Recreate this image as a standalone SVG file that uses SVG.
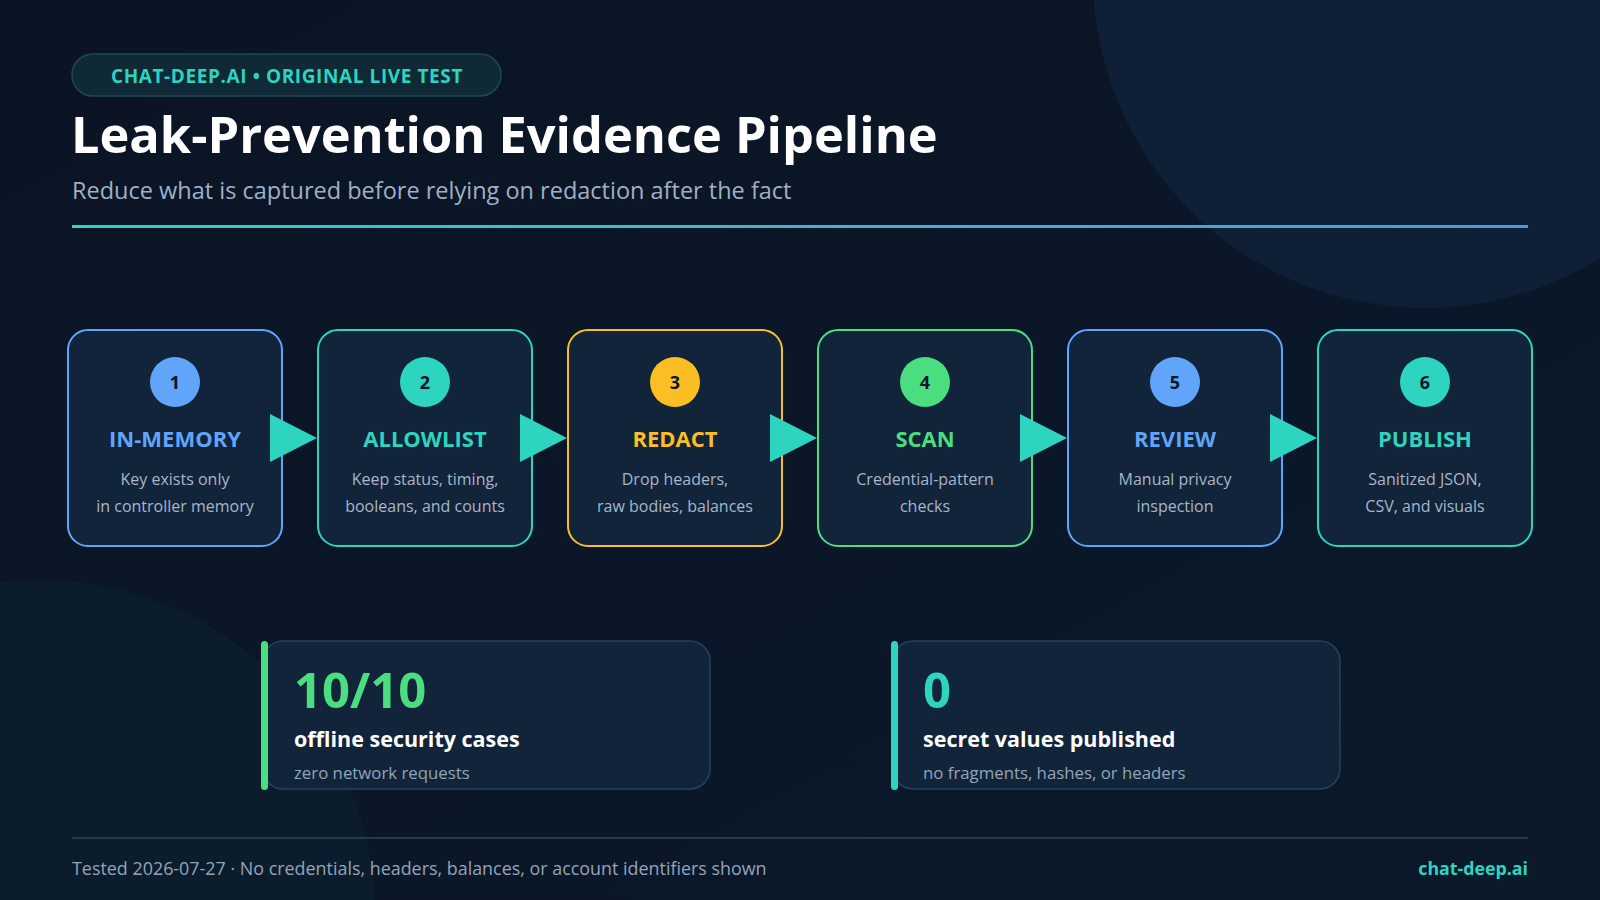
<svg xmlns="http://www.w3.org/2000/svg" width="1600" height="900" viewBox="0 0 1600 900">
<defs>
<linearGradient id="bg" x1="0" y1="0" x2="1" y2="1">
<stop offset="0" stop-color="#0a1424"/>
<stop offset="1" stop-color="#0b192b"/>
</linearGradient>
<linearGradient id="rule" x1="0" y1="0" x2="1" y2="0">
<stop offset="0" stop-color="#2dd4bf"/>
<stop offset="1" stop-color="#4a9ae0"/>
</linearGradient>
<style>
text{font-family:"Open Sans","Noto Sans","Liberation Sans",sans-serif}
.box{fill:#12243a;stroke-width:2}
.num{font-size:18px;font-weight:700;fill:#0b1628;text-anchor:middle}
.lbl{font-size:22px;font-weight:700;text-anchor:middle}
.desc{font-size:16px;fill:#a7b6c8;text-anchor:middle}
.arrow{fill:#2dd4bf}
.card{fill:#12243a;stroke:#27405a;stroke-width:1.5}
.big{font-size:49px;font-weight:700}
.cap{font-size:21.5px;font-weight:700;fill:#ffffff}
.sub{font-size:16.8px;fill:#93a4b8}
</style>
</defs>
<rect width="1600" height="900" fill="url(#bg)"/>
<circle cx="1425" cy="-24" r="332" fill="#0e1f36"/>
<circle cx="40" cy="915" r="335" fill="#0b1d2d"/>

<g id="header">
<rect x="72" y="54" width="429" height="42" rx="21" fill="#0f2a36" stroke="#1d4a52" stroke-width="1.5"/>
<text x="287" y="83" text-anchor="middle" font-size="19" font-weight="700" fill="#2dd4bf" letter-spacing="0.6">CHAT-DEEP.AI • ORIGINAL LIVE TEST</text>
<text x="71" y="153" font-size="50.5" font-weight="700" fill="#ffffff">Leak-Prevention Evidence Pipeline</text>
<text x="72" y="199" font-size="23.5" fill="#9fb1c5">Reduce what is captured before relying on redaction after the fact</text>
<rect x="72" y="225" width="1456" height="3" fill="url(#rule)"/>
</g>

<g id="step1">
<rect class="box" x="68" y="330" width="214" height="216" rx="20" stroke="#60a5fa"/>
<circle cx="175" cy="382" r="25" fill="#60a5fa"/>
<text class="num" x="175" y="388.5">1</text>
<text class="lbl" x="175" y="447" fill="#60a5fa">IN-MEMORY</text>
<text class="desc" x="175" y="485">Key exists only</text>
<text class="desc" x="175" y="512">in controller memory</text>
</g>
<g id="step2">
<rect class="box" x="318" y="330" width="214" height="216" rx="20" stroke="#2dd4bf"/>
<circle cx="425" cy="382" r="25" fill="#2dd4bf"/>
<text class="num" x="425" y="388.5">2</text>
<text class="lbl" x="425" y="447" fill="#2dd4bf">ALLOWLIST</text>
<text class="desc" x="425" y="485">Keep status, timing,</text>
<text class="desc" x="425" y="512">booleans, and counts</text>
</g>
<g id="step3">
<rect class="box" x="568" y="330" width="214" height="216" rx="20" stroke="#fbbf24"/>
<circle cx="675" cy="382" r="25" fill="#fbbf24"/>
<text class="num" x="675" y="388.5">3</text>
<text class="lbl" x="675" y="447" fill="#fbbf24">REDACT</text>
<text class="desc" x="675" y="485">Drop headers,</text>
<text class="desc" x="675" y="512">raw bodies, balances</text>
</g>
<g id="step4">
<rect class="box" x="818" y="330" width="214" height="216" rx="20" stroke="#4ade80"/>
<circle cx="925" cy="382" r="25" fill="#4ade80"/>
<text class="num" x="925" y="388.5">4</text>
<text class="lbl" x="925" y="447" fill="#4ade80">SCAN</text>
<text class="desc" x="925" y="485">Credential-pattern</text>
<text class="desc" x="925" y="512">checks</text>
</g>
<g id="step5">
<rect class="box" x="1068" y="330" width="214" height="216" rx="20" stroke="#60a5fa"/>
<circle cx="1175" cy="382" r="25" fill="#60a5fa"/>
<text class="num" x="1175" y="388.5">5</text>
<text class="lbl" x="1175" y="447" fill="#60a5fa">REVIEW</text>
<text class="desc" x="1175" y="485">Manual privacy</text>
<text class="desc" x="1175" y="512">inspection</text>
</g>
<g id="step6">
<rect class="box" x="1318" y="330" width="214" height="216" rx="20" stroke="#2dd4bf"/>
<circle cx="1425" cy="382" r="25" fill="#2dd4bf"/>
<text class="num" x="1425" y="388.5">6</text>
<text class="lbl" x="1425" y="447" fill="#2dd4bf">PUBLISH</text>
<text class="desc" x="1425" y="485">Sanitized JSON,</text>
<text class="desc" x="1425" y="512">CSV, and visuals</text>
</g>

<g id="connectors">
<polygon class="arrow" points="270,414 317,438 270,462"/>
<polygon class="arrow" points="520,414 567,438 520,462"/>
<polygon class="arrow" points="770,414 817,438 770,462"/>
<polygon class="arrow" points="1020,414 1067,438 1020,462"/>
<polygon class="arrow" points="1270,414 1317,438 1270,462"/>
</g>

<g id="stat1">
<rect class="card" x="263" y="641" width="447" height="148" rx="20"/>
<rect x="261" y="641" width="7" height="149" rx="3.5" fill="#4ade80"/>
<text class="big" x="294" y="708" fill="#4ade80">10/10</text>
<text class="cap" x="294" y="747">offline security cases</text>
<text class="sub" x="294" y="779">zero network requests</text>
</g>
<g id="stat2">
<rect class="card" x="893" y="641" width="447" height="148" rx="20"/>
<rect x="891" y="641" width="7" height="149" rx="3.5" fill="#2dd4bf"/>
<text class="big" x="923" y="708" fill="#2dd4bf">0</text>
<text class="cap" x="923" y="747">secret values published</text>
<text class="sub" x="923" y="779">no fragments, hashes, or headers</text>
</g>

<g id="footer">
<rect x="72" y="837" width="1456" height="2" fill="#22394f"/>
<text x="72" y="875" font-size="17.9" fill="#93a4b8">Tested 2026-07-27 · No credentials, headers, balances, or account identifiers shown</text>
<text x="1528" y="875" font-size="17.8" font-weight="700" fill="#2dd4bf" text-anchor="end">chat-deep.ai</text>
</g>
</svg>
